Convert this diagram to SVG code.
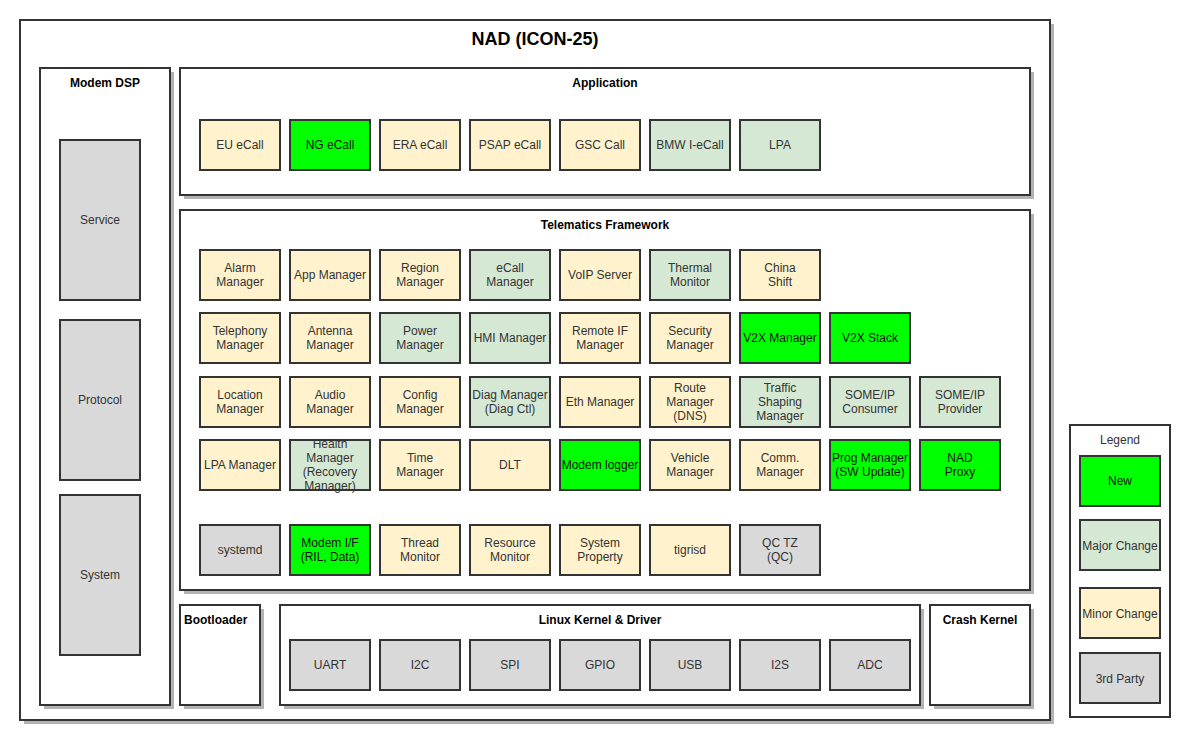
<svg xmlns="http://www.w3.org/2000/svg" width="1190" height="740" viewBox="0 0 1190 740">
<style>
text{font-family:"Liberation Sans",Arial,sans-serif;font-size:12px;fill:#333333;text-anchor:middle}
.t{font-weight:bold;fill:#000000}
.big{font-size:18px}
.c{fill:#ffffff;stroke:#333333;stroke-width:2}
.sh{fill:#b3b3b3}
.n{stroke:#333333;stroke-width:2}
.new{fill:#00ff00}
.maj{fill:#d5e8d4}
.min{fill:#fff2cc}
.trd{fill:#d9d9d9}
.new+text,.new+text+text{fill:#111111}
</style>
<g id="outer">
<rect class="sh" x="24" y="24" width="1030" height="700"/>
<rect class="c" x="20" y="20" width="1030" height="700"/>
<text class="t big" x="535" y="45">NAD (ICON-25)</text>
</g>
<g id="modem-dsp">
<rect class="sh" x="44" y="72" width="130" height="637"/>
<rect class="c" x="40" y="68" width="130" height="637"/>
<text class="t" x="105" y="87">Modem DSP</text>
</g>
<g id="service"><rect class="n trd" x="60" y="140" width="80" height="160"/><text x="100" y="224">Service</text></g>
<g id="protocol"><rect class="n trd" x="60" y="320" width="80" height="160"/><text x="100" y="404">Protocol</text></g>
<g id="system"><rect class="n trd" x="60" y="495" width="80" height="160"/><text x="100" y="579">System</text></g>

<g id="application">
<rect class="sh" x="184" y="72" width="850" height="127"/>
<rect class="c" x="180" y="68" width="850" height="127"/>
<text class="t" x="605" y="87">Application</text>
</g>
<g id="eu-ecall"><rect class="n min" x="200" y="120" width="80" height="50"/><text x="240" y="149">EU eCall</text></g>
<g id="ng-ecall"><rect class="n new" x="290" y="120" width="80" height="50"/><text x="330" y="149">NG eCall</text></g>
<g id="era-ecall"><rect class="n min" x="380" y="120" width="80" height="50"/><text x="420" y="149">ERA eCall</text></g>
<g id="psap-ecall"><rect class="n min" x="470" y="120" width="80" height="50"/><text x="510" y="149">PSAP eCall</text></g>
<g id="gsc-call"><rect class="n min" x="560" y="120" width="80" height="50"/><text x="600" y="149">GSC Call</text></g>
<g id="bmw-iecall"><rect class="n maj" x="650" y="120" width="80" height="50"/><text x="690" y="149">BMW I-eCall</text></g>
<g id="lpa"><rect class="n maj" x="740" y="120" width="80" height="50"/><text x="780" y="149">LPA</text></g>

<g id="telematics-framework">
<rect class="sh" x="184" y="214" width="850" height="380"/>
<rect class="c" x="180" y="210" width="850" height="380"/>
<text class="t" x="605" y="229">Telematics Framework</text>
</g>
<!-- row 1 -->
<g id="alarm-manager"><rect class="n min" x="200" y="250" width="80" height="50"/><text x="240" y="272">Alarm</text><text x="240" y="286">Manager</text></g>
<g id="app-manager"><rect class="n min" x="290" y="250" width="80" height="50"/><text x="330" y="279">App Manager</text></g>
<g id="region-manager"><rect class="n min" x="380" y="250" width="80" height="50"/><text x="420" y="272">Region</text><text x="420" y="286">Manager</text></g>
<g id="ecall-manager"><rect class="n maj" x="470" y="250" width="80" height="50"/><text x="510" y="272">eCall</text><text x="510" y="286">Manager</text></g>
<g id="voip-server"><rect class="n min" x="560" y="250" width="80" height="50"/><text x="600" y="279">VoIP Server</text></g>
<g id="thermal-monitor"><rect class="n maj" x="650" y="250" width="80" height="50"/><text x="690" y="272">Thermal</text><text x="690" y="286">Monitor</text></g>
<g id="china-shift"><rect class="n min" x="740" y="250" width="80" height="50"/><text x="780" y="272">China</text><text x="780" y="286">Shift</text></g>
<!-- row 2 -->
<g id="telephony-manager"><rect class="n min" x="200" y="313" width="80" height="50"/><text x="240" y="335">Telephony</text><text x="240" y="349">Manager</text></g>
<g id="antenna-manager"><rect class="n min" x="290" y="313" width="80" height="50"/><text x="330" y="335">Antenna</text><text x="330" y="349">Manager</text></g>
<g id="power-manager"><rect class="n maj" x="380" y="313" width="80" height="50"/><text x="420" y="335">Power</text><text x="420" y="349">Manager</text></g>
<g id="hmi-manager"><rect class="n maj" x="470" y="313" width="80" height="50"/><text x="510" y="342">HMI Manager</text></g>
<g id="remote-if-manager"><rect class="n min" x="560" y="313" width="80" height="50"/><text x="600" y="335">Remote IF</text><text x="600" y="349">Manager</text></g>
<g id="security-manager"><rect class="n min" x="650" y="313" width="80" height="50"/><text x="690" y="335">Security</text><text x="690" y="349">Manager</text></g>
<g id="v2x-manager"><rect class="n new" x="740" y="313" width="80" height="50"/><text x="780" y="342">V2X Manager</text></g>
<g id="v2x-stack"><rect class="n new" x="830" y="313" width="80" height="50"/><text x="870" y="342">V2X Stack</text></g>
<!-- row 3 -->
<g id="location-manager"><rect class="n min" x="200" y="377" width="80" height="50"/><text x="240" y="399">Location</text><text x="240" y="413">Manager</text></g>
<g id="audio-manager"><rect class="n min" x="290" y="377" width="80" height="50"/><text x="330" y="399">Audio</text><text x="330" y="413">Manager</text></g>
<g id="config-manager"><rect class="n min" x="380" y="377" width="80" height="50"/><text x="420" y="399">Config</text><text x="420" y="413">Manager</text></g>
<g id="diag-manager"><rect class="n maj" x="470" y="377" width="80" height="50"/><text x="510" y="399">Diag Manager</text><text x="510" y="413">(Diag Ctl)</text></g>
<g id="eth-manager"><rect class="n min" x="560" y="377" width="80" height="50"/><text x="600" y="406">Eth Manager</text></g>
<g id="route-manager"><rect class="n min" x="650" y="377" width="80" height="50"/><text x="690" y="392">Route</text><text x="690" y="406">Manager</text><text x="690" y="420">(DNS)</text></g>
<g id="traffic-shaping-manager"><rect class="n maj" x="740" y="377" width="80" height="50"/><text x="780" y="392">Traffic</text><text x="780" y="406">Shaping</text><text x="780" y="420">Manager</text></g>
<g id="someip-consumer"><rect class="n maj" x="830" y="377" width="80" height="50"/><text x="870" y="399">SOME/IP</text><text x="870" y="413">Consumer</text></g>
<g id="someip-provider"><rect class="n maj" x="920" y="377" width="80" height="50"/><text x="960" y="399">SOME/IP</text><text x="960" y="413">Provider</text></g>
<!-- row 4 -->
<g id="lpa-manager"><rect class="n min" x="200" y="440" width="80" height="50"/><text x="240" y="469">LPA Manager</text></g>
<g id="health-manager"><rect class="n maj" x="290" y="440" width="80" height="50"/><text x="330" y="448">Health</text><text x="330" y="462">Manager</text><text x="330" y="476">(Recovery</text><text x="330" y="490">Manager)</text></g>
<g id="time-manager"><rect class="n min" x="380" y="440" width="80" height="50"/><text x="420" y="462">Time</text><text x="420" y="476">Manager</text></g>
<g id="dlt"><rect class="n min" x="470" y="440" width="80" height="50"/><text x="510" y="469">DLT</text></g>
<g id="modem-logger"><rect class="n new" x="560" y="440" width="80" height="50"/><text x="600" y="469">Modem logger</text></g>
<g id="vehicle-manager"><rect class="n min" x="650" y="440" width="80" height="50"/><text x="690" y="462">Vehicle</text><text x="690" y="476">Manager</text></g>
<g id="comm-manager"><rect class="n min" x="740" y="440" width="80" height="50"/><text x="780" y="462">Comm.</text><text x="780" y="476">Manager</text></g>
<g id="prog-manager"><rect class="n new" x="830" y="440" width="80" height="50"/><text x="870" y="462">Prog Manager</text><text x="870" y="476">(SW Update)</text></g>
<g id="nad-proxy"><rect class="n new" x="920" y="440" width="80" height="50"/><text x="960" y="462">NAD</text><text x="960" y="476">Proxy</text></g>
<!-- row 5 -->
<g id="systemd"><rect class="n trd" x="200" y="525" width="80" height="50"/><text x="240" y="554">systemd</text></g>
<g id="modem-if"><rect class="n new" x="290" y="525" width="80" height="50"/><text x="330" y="547">Modem I/F</text><text x="330" y="561">(RIL, Data)</text></g>
<g id="thread-monitor"><rect class="n min" x="380" y="525" width="80" height="50"/><text x="420" y="547">Thread</text><text x="420" y="561">Monitor</text></g>
<g id="resource-monitor"><rect class="n min" x="470" y="525" width="80" height="50"/><text x="510" y="547">Resource</text><text x="510" y="561">Monitor</text></g>
<g id="system-property"><rect class="n min" x="560" y="525" width="80" height="50"/><text x="600" y="547">System</text><text x="600" y="561">Property</text></g>
<g id="tigrisd"><rect class="n min" x="650" y="525" width="80" height="50"/><text x="690" y="554">tigrisd</text></g>
<g id="qc-tz"><rect class="n trd" x="740" y="525" width="80" height="50"/><text x="780" y="547">QC TZ</text><text x="780" y="561">(QC)</text></g>

<g id="bootloader">
<rect class="sh" x="184" y="609" width="80" height="100"/>
<rect class="c" x="180" y="605" width="80" height="100"/>
<text class="t" x="184" y="624" style="text-anchor:start">Bootloader</text>
</g>
<g id="linux-kernel">
<rect class="sh" x="284" y="609" width="640" height="100"/>
<rect class="c" x="280" y="605" width="640" height="100"/>
<text class="t" x="600" y="624">Linux Kernel &amp; Driver</text>
</g>
<g id="uart"><rect class="n trd" x="290" y="640" width="80" height="50"/><text x="330" y="669">UART</text></g>
<g id="i2c"><rect class="n trd" x="380" y="640" width="80" height="50"/><text x="420" y="669">I2C</text></g>
<g id="spi"><rect class="n trd" x="470" y="640" width="80" height="50"/><text x="510" y="669">SPI</text></g>
<g id="gpio"><rect class="n trd" x="560" y="640" width="80" height="50"/><text x="600" y="669">GPIO</text></g>
<g id="usb"><rect class="n trd" x="650" y="640" width="80" height="50"/><text x="690" y="669">USB</text></g>
<g id="i2s"><rect class="n trd" x="740" y="640" width="80" height="50"/><text x="780" y="669">I2S</text></g>
<g id="adc"><rect class="n trd" x="830" y="640" width="80" height="50"/><text x="870" y="669">ADC</text></g>
<g id="crash-kernel">
<rect class="sh" x="934" y="609" width="100" height="100"/>
<rect class="c" x="930" y="605" width="100" height="100"/>
<text class="t" x="980" y="624">Crash Kernel</text>
</g>

<g id="legend">
<rect class="c" x="1070" y="425" width="100" height="292"/>
<text x="1120" y="444">Legend</text>
</g>
<g id="legend-new"><rect class="n new" x="1080" y="456" width="80" height="50"/><text x="1120" y="485">New</text></g>
<g id="legend-major"><rect class="n maj" x="1080" y="520" width="80" height="50"/><text x="1120" y="550">Major Change</text></g>
<g id="legend-minor"><rect class="n min" x="1080" y="588" width="80" height="50"/><text x="1120" y="618">Minor Change</text></g>
<g id="legend-3rd"><rect class="n trd" x="1080" y="653" width="80" height="50"/><text x="1120" y="683">3rd Party</text></g>
<g id="connectors"/>
</svg>
